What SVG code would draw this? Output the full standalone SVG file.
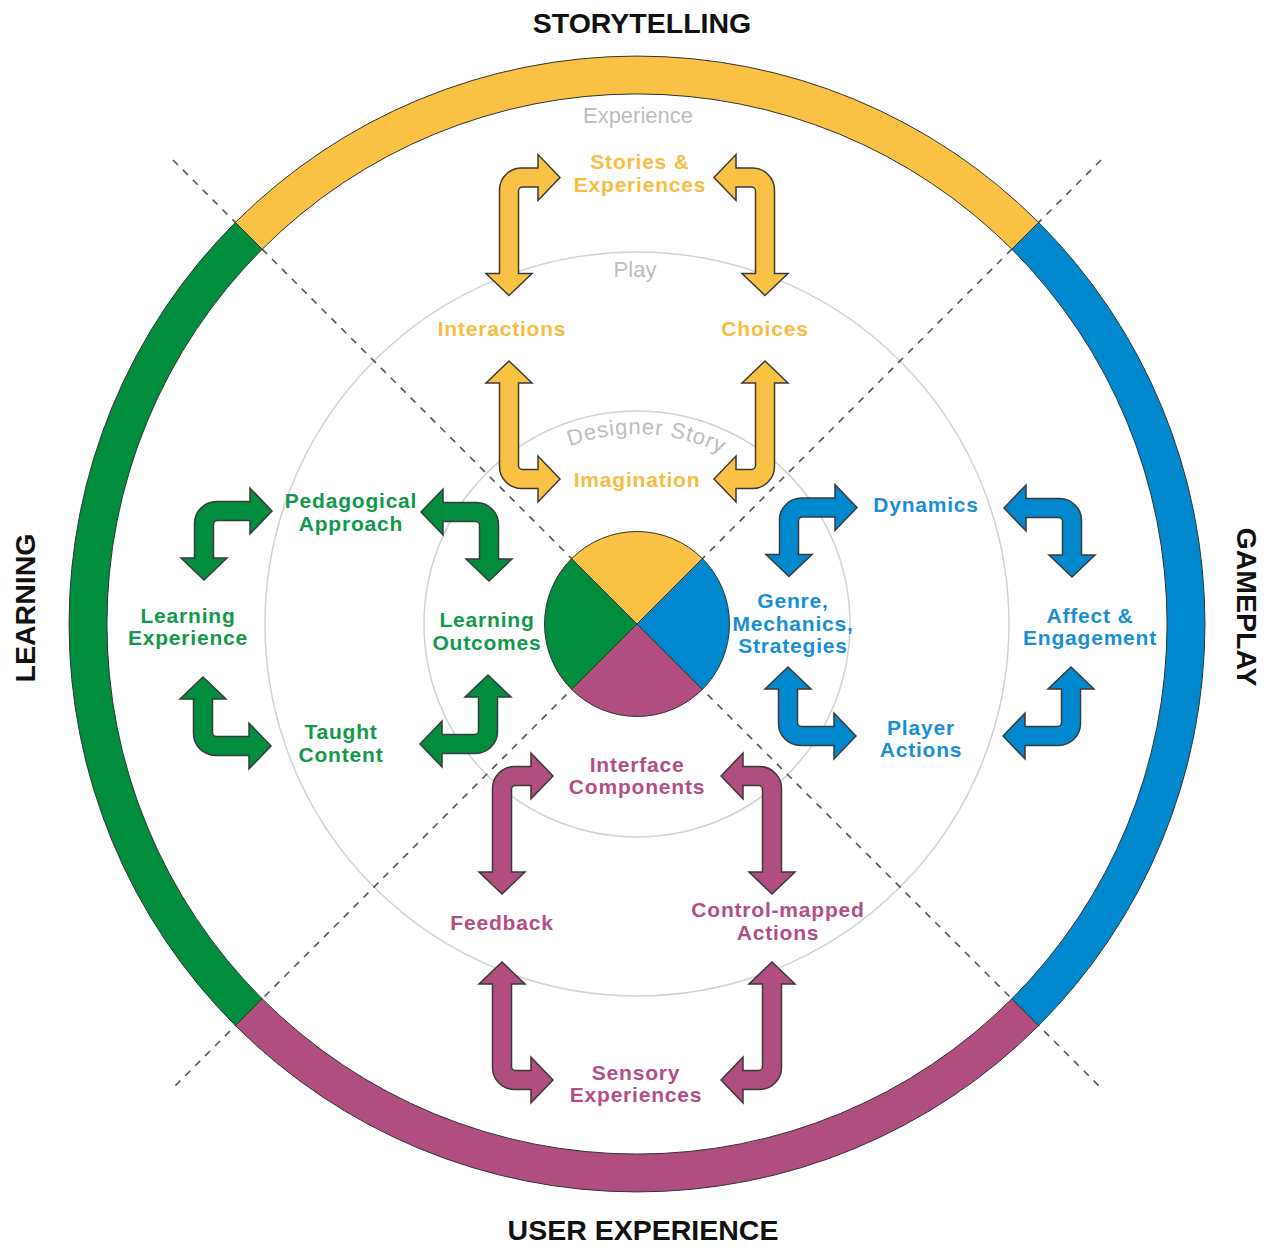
<svg xmlns="http://www.w3.org/2000/svg" xmlns:xlink="http://www.w3.org/1999/xlink" width="1272" height="1250" viewBox="0 0 1272 1250">
  <style>
    .title { font-family: "Liberation Sans", Arial, sans-serif; font-weight: bold; font-size: 28.5px; fill: #111; text-anchor: middle; }
    .gray { font-family: "Liberation Sans", Arial, sans-serif; font-size: 22px; fill: #BDBDBD; text-anchor: middle; }
    .lbl { font-family: "Liberation Sans", Arial, sans-serif; font-weight: bold; font-size: 21px; letter-spacing: 0.8px; text-anchor: middle; }
    .ty { fill: #F7BD44; }
    .tg { fill: #13994B; }
    .tb { fill: #1A8FD6; }
    .tm { fill: #B34F86; }
    .seg { stroke: #333; stroke-width: 1; }
    .arr { stroke: #3A3A3A; stroke-width: 1.5; stroke-linejoin: miter; }
    .fy { fill: #F9C244; }
    .fg { fill: #008D3E; }
    .fb { fill: #0088CF; }
    .fm { fill: #B04E7F; }
    .ring { fill: none; stroke: #D2D2D2; stroke-width: 1.5; }
    .dash { stroke: #555; stroke-width: 1.6; stroke-dasharray: 7 7; fill: none; }
  </style>
  <defs>
    <path id="longArrow" d="M 51,0 L 29,-23 L 29,-9.5 L 12.5,-9.5 A 22 22 0 0 0 -9.5,12.5 L -9.5,96 L -23,96 L 0,118 L 23,96 L 9.5,96 L 9.5,13.5 A 4 4 0 0 1 13.5,9.5 L 29,9.5 L 29,23 Z"/>
    <path id="shortArrow" d="M 68,0 L 46,-23 L 46,-9.5 L 12.5,-9.5 A 22 22 0 0 0 -9.5,12.5 L -9.5,47 L -23,47 L 0,69 L 23,47 L 9.5,47 L 9.5,13.5 A 4 4 0 0 1 13.5,9.5 L 46,9.5 L 46,23 Z"/>
    <path id="storyArc" d="M 447,624 A 190 190 0 0 1 827,624"/>
  </defs>

  <rect width="1272" height="1250" fill="#FFFFFF"/>

  <!-- guide circles and dashed diagonals -->
  <g id="background">
    <circle class="ring" cx="637" cy="624" r="372"/>
    <circle class="ring" cx="637" cy="624" r="213"/>
    <line class="dash" x1="173" y1="160" x2="1101" y2="1088"/>
    <line class="dash" x1="1101" y1="160" x2="173" y2="1088"/>
  </g>

  <!-- outer ring segments -->
  <g id="outer-ring">
    <path class="seg fy" d="M 235.4,222.4 A 568 568 0 0 1 1038.6,222.4 L 1011.8,249.2 A 530 530 0 0 0 262.2,249.2 Z"/>
    <path class="seg fb" d="M 1038.6,222.4 A 568 568 0 0 1 1038.6,1025.6 L 1011.8,998.8 A 530 530 0 0 0 1011.8,249.2 Z"/>
    <path class="seg fm" d="M 1038.6,1025.6 A 568 568 0 0 1 235.4,1025.6 L 262.2,998.8 A 530 530 0 0 0 1011.8,998.8 Z"/>
    <path class="seg fg" d="M 235.4,1025.6 A 568 568 0 0 1 235.4,222.4 L 262.2,249.2 A 530 530 0 0 0 262.2,998.8 Z"/>
  </g>

  <!-- center disc -->
  <g id="center-disc">
    <path class="seg fy" d="M 637,624 L 571.6,558.6 A 92.5 92.5 0 0 1 702.4,558.6 Z"/>
    <path class="seg fb" d="M 637,624 L 702.4,558.6 A 92.5 92.5 0 0 1 702.4,689.4 Z"/>
    <path class="seg fm" d="M 637,624 L 702.4,689.4 A 92.5 92.5 0 0 1 571.6,689.4 Z"/>
    <path class="seg fg" d="M 637,624 L 571.6,689.4 A 92.5 92.5 0 0 1 571.6,558.6 Z"/>
  </g>

  <!-- titles -->
  <g id="title-storytelling"><text class="title" x="642" y="33">STORYTELLING</text></g>
  <g id="title-user-experience"><text class="title" x="643" y="1240">USER EXPERIENCE</text></g>
  <g id="title-learning"><text class="title" transform="translate(35,608) rotate(-90)" x="0" y="0">LEARNING</text></g>
  <g id="title-gameplay"><text class="title" transform="translate(1237,607) rotate(90)" x="0" y="0">GAMEPLAY</text></g>

  <!-- ring labels -->
  <g id="ring-experience"><text class="gray" x="638" y="123">Experience</text></g>
  <g id="ring-play"><text class="gray" x="635" y="277">Play</text></g>
  <g id="ring-designer-story"><text class="gray" letter-spacing="0.8"><textPath xlink:href="#storyArc" href="#storyArc" startOffset="308">Designer Story</textPath></text></g>

  <!-- connectors -->
  <g id="connectors">
    <use href="#longArrow" xlink:href="#longArrow" class="arr fy" transform="translate(509,177.5)"/>
    <use href="#longArrow" xlink:href="#longArrow" class="arr fy" transform="translate(765,177.5) scale(-1,1)"/>
    <use href="#longArrow" xlink:href="#longArrow" class="arr fy" transform="translate(509,479) scale(1,-1)"/>
    <use href="#longArrow" xlink:href="#longArrow" class="arr fy" transform="translate(765,479) scale(-1,-1)"/>

    <use href="#shortArrow" xlink:href="#shortArrow" class="arr fg" transform="translate(204,511)"/>
    <use href="#shortArrow" xlink:href="#shortArrow" class="arr fg" transform="translate(489,512) scale(-1,1)"/>
    <use href="#shortArrow" xlink:href="#shortArrow" class="arr fg" transform="translate(203,746) scale(1,-1)"/>
    <use href="#shortArrow" xlink:href="#shortArrow" class="arr fg" transform="translate(488,744) scale(-1,-1)"/>

    <use href="#shortArrow" xlink:href="#shortArrow" class="arr fb" transform="translate(789,507.5)"/>
    <use href="#shortArrow" xlink:href="#shortArrow" class="arr fb" transform="translate(1072,508) scale(-1,1)"/>
    <use href="#shortArrow" xlink:href="#shortArrow" class="arr fb" transform="translate(788,736) scale(1,-1)"/>
    <use href="#shortArrow" xlink:href="#shortArrow" class="arr fb" transform="translate(1071,736) scale(-1,-1)"/>

    <use href="#longArrow" xlink:href="#longArrow" class="arr fm" transform="translate(502,776)"/>
    <use href="#longArrow" xlink:href="#longArrow" class="arr fm" transform="translate(772,776) scale(-1,1)"/>
    <use href="#longArrow" xlink:href="#longArrow" class="arr fm" transform="translate(502,1080) scale(1,-1)"/>
    <use href="#longArrow" xlink:href="#longArrow" class="arr fm" transform="translate(772,1080) scale(-1,-1)"/>
  </g>

  <!-- storytelling nodes -->
  <g id="node-stories-experiences"><text class="lbl ty" x="640" y="169">Stories &amp;</text><text class="lbl ty" x="640" y="192">Experiences</text></g>
  <g id="node-interactions"><text class="lbl ty" x="502" y="336">Interactions</text></g>
  <g id="node-choices"><text class="lbl ty" x="765" y="336">Choices</text></g>
  <g id="node-imagination"><text class="lbl ty" x="637" y="487">Imagination</text></g>

  <!-- learning nodes -->
  <g id="node-pedagogical-approach"><text class="lbl tg" x="351" y="508">Pedagogical</text><text class="lbl tg" x="351" y="531">Approach</text></g>
  <g id="node-learning-experience"><text class="lbl tg" x="188" y="623">Learning</text><text class="lbl tg" x="188" y="645">Experience</text></g>
  <g id="node-learning-outcomes"><text class="lbl tg" x="487" y="627">Learning</text><text class="lbl tg" x="487" y="650">Outcomes</text></g>
  <g id="node-taught-content"><text class="lbl tg" x="341" y="739">Taught</text><text class="lbl tg" x="341" y="762">Content</text></g>

  <!-- gameplay nodes -->
  <g id="node-dynamics"><text class="lbl tb" x="926" y="512">Dynamics</text></g>
  <g id="node-genre-mechanics"><text class="lbl tb" x="793" y="608">Genre,</text><text class="lbl tb" x="793" y="631">Mechanics,</text><text class="lbl tb" x="793" y="653">Strategies</text></g>
  <g id="node-affect-engagement"><text class="lbl tb" x="1090" y="623">Affect &amp;</text><text class="lbl tb" x="1090" y="645">Engagement</text></g>
  <g id="node-player-actions"><text class="lbl tb" x="921" y="735">Player</text><text class="lbl tb" x="921" y="757">Actions</text></g>

  <!-- user experience nodes -->
  <g id="node-interface-components"><text class="lbl tm" x="637" y="772">Interface</text><text class="lbl tm" x="637" y="794">Components</text></g>
  <g id="node-feedback"><text class="lbl tm" x="502" y="930">Feedback</text></g>
  <g id="node-control-mapped-actions"><text class="lbl tm" x="778" y="917">Control-mapped</text><text class="lbl tm" x="778" y="940">Actions</text></g>
  <g id="node-sensory-experiences"><text class="lbl tm" x="636" y="1080">Sensory</text><text class="lbl tm" x="636" y="1102">Experiences</text></g>
</svg>
